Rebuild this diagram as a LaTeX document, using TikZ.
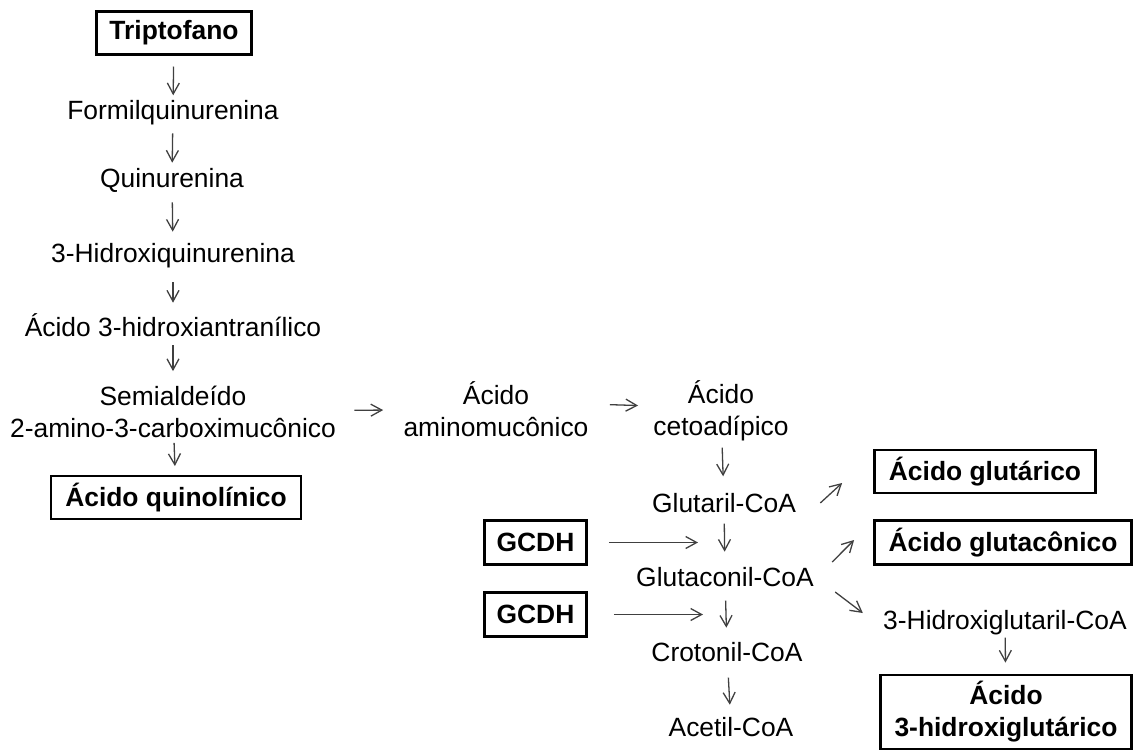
\documentclass[tikz,border=0pt]{standalone}
\usepackage{fontspec}
\setmainfont{Liberation Sans}
\usepackage{tikz}
\usetikzlibrary{arrows.meta,positioning}
\definecolor{setacinza}{HTML}{404040}

\begin{document}
\begin{tikzpicture}[
    x=0.5pt, y=-0.5pt,
    txt/.style={inner sep=0pt, font=\fontsize{13.2pt}{16pt}\selectfont, text height=11.9pt, text depth=2.4pt},
    txtb/.style={inner sep=0pt, font=\fontsize{13.2pt}{16pt}\selectfont, align=center},
    cbox/.style={draw=black, line width=1.4pt, inner sep=0pt, font=\fontsize{13.2pt}{16pt}\selectfont\bfseries, minimum height=21.5pt, align=center},
    seta/.style={-{Straight Barb[length=5.5pt,width=6pt]}, setacinza, line width=0.65pt}
]
\useasboundingbox (0,0) rectangle (1135,751);

% coluna do triptofano
\node[cbox, minimum width=77.5pt] (tri) at (174,33) {Triptofano};
\node[txt] (fq) at (173,110) {Formilquinurenina};
\node[txt] (qn) at (172,178) {Quinurenina};
\node[txt] (hq) at (173,253) {3-Hidroxiquinurenina};
\node[txt] (ah) at (173,327) {Ácido 3-hidroxiantranílico};
\node[txtb] (semi) at (173,412) {Semialdeído\\2-amino-3-carboximucônico};
\node[cbox, minimum width=125pt] (quin) at (176,497.5) {Ácido quinolínico};

% via do glutaril-CoA
\node[txtb] (amuc) at (496,409) {Ácido\\aminomucônico};
\node[txtb] (ceto) at (721,411) {Ácido\\cetoadípico};
\node[txt] (glr) at (724,503) {Glutaril-CoA};
\node[txt] (glc) at (725,577) {Glutaconil-CoA};
\node[txt] (cro) at (727,652) {Crotonil-CoA};
\node[txt] (ace) at (731,727) {Acetil-CoA};

\node[cbox, minimum width=51pt, minimum height=22pt] (g1) at (535.5,542.5) {GCDH};
\node[cbox, minimum width=51pt, minimum height=22pt] (g2) at (535.5,614.5) {GCDH};
\coordinate (r1) at (723,542.5);
\coordinate (r2) at (727,614.5);

\node[cbox, minimum width=110.5pt] (glu) at (985,471.5) {Ácido glutárico};
\node[cbox, minimum width=128.5pt, minimum height=22pt] (glt) at (1003,542.5) {Ácido glutacônico};
\node[txt] (hgc) at (1005,620) {3-Hidroxiglutaril-CoA};
\node[cbox, minimum width=125.5pt, minimum height=37pt] (hga) at (1006,712) {Ácido\\3-hidroxiglutárico};

\draw[seta, shorten <=5.3pt, shorten >=0pt] (tri) -- (fq);
\draw[seta, shorten <=4.3pt, shorten >=0.3pt] (fq) -- (qn);
\draw[seta, shorten <=4.8pt, shorten >=3.3pt] (qn) -- (hq);
\draw[seta, shorten <=7.3pt, shorten >=4.8pt] (hq) -- (ah);
\draw[seta, shorten <=1.8pt, shorten >=7.3pt] (ah) -- (semi);
\draw[seta, shorten <=2.3pt, shorten >=4.3pt] (semi) -- (quin);

\draw[seta, shorten <=9pt, shorten >=10pt] (semi) -- (amuc);
\draw[seta, shorten <=10.5pt, shorten >=7.5pt] ([yshift=2.5pt]amuc.east) -- ([yshift=2.5pt]ceto.west);
\draw[seta, shorten <=3pt, shorten >=6pt] (ceto) -- (glr);
\draw[seta, shorten <=3pt, shorten >=5.3pt] (glr) -- (glc);
\draw[seta, shorten <=4.5pt, shorten >=4.8pt] (glc) -- (cro);
\draw[seta, shorten <=5.5pt, shorten >=3.8pt] (cro) -- (ace);

\draw[seta, shorten <=10.5pt, shorten >=12.5pt] (g1) -- (r1);
\draw[seta, shorten <=13pt, shorten >=12pt] (g2) -- (r2);

\draw[seta] ([shift={(24,0)}]glr.east) -- ([shift={(-31,11.5)}]glu.west);
\draw[seta] ([shift={(18,-15)}]glc.east) -- ([shift={(-19,-2.5)}]glt.west);
\draw[seta] ([shift={(21,15)}]glc.east) -- ([shift={(-20,-7)}]hgc.west);
\draw[seta, shorten <=1.5pt, shorten >=5.5pt] (hgc) -- (hga);
\end{tikzpicture}
\end{document}
